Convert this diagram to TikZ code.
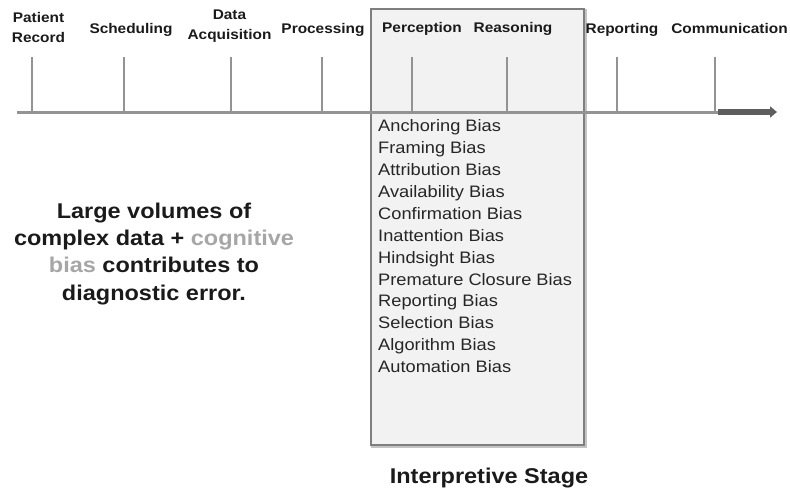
\documentclass[tikz,border=0pt]{standalone}
\usepackage{fontspec}
\setmainfont{Liberation Sans}[FakeStretch=1.1]
\usetikzlibrary{arrows.meta}
\definecolor{lblText}{HTML}{1A1A1A}
\definecolor{biasText}{HTML}{262626}
\definecolor{cogGrey}{HTML}{A6A6A6}
\definecolor{axisGrey}{HTML}{939393}
\definecolor{arrowGrey}{HTML}{5E5E5E}
\definecolor{boxFill}{HTML}{F2F2F2}
\definecolor{boxLine}{HTML}{7F7F7F}
\definecolor{shadowGrey}{HTML}{C4C4C4}
\tikzset{
  stagelbl/.style={inner sep=0pt, text=lblText, font=\fontsize{14}{20}\selectfont\bfseries, align=center},
  bigtext/.style={inner sep=0pt, text=lblText, font=\fontsize{21.35}{27.3}\selectfont\bfseries, align=center},
  biaslist/.style={inner sep=0pt, text=biasText, font=\fontsize{16.6}{21.9}\selectfont, align=left},
  tickline/.style={draw=axisGrey, line width=2.8pt},
  axisline/.style={draw=axisGrey, line width=3pt},
  arrowpart/.style={draw=arrowGrey, line width=5.5pt, -{Triangle[length=7pt,width=11pt]}},
  stagebox/.style={draw=boxLine, fill=boxFill, line width=2.3pt},
  boxshadow/.style={draw=shadowGrey, line width=2.3pt}
}
\begin{document}
\begin{tikzpicture}[x=1pt,y=-1pt]
\useasboundingbox (0,0) rectangle (790,488);
% interpretive box
\draw[boxshadow] (372.5,10.5) rectangle (585.5,446.5);
\draw[stagebox] (371,9) rectangle (584,445);
% timeline
\coordinate (axA) at (17,112);
\coordinate (axB) at (718,112);
\coordinate (axC) at (777,112);
\draw[axisline] (axA) -- (axB);
\draw[arrowpart] (axB) -- (axC);
% ticks
\foreach \n/\x in {t1/32,t2/124,t3/231,t4/322,t5/412,t6/507,t7/617,t8/715}{
  \coordinate (\n top) at (\x,57);
  \coordinate (\n bot) at (\x,113);
  \draw[tickline] (\n top) -- (\n bot);
}
% stage labels
\node[stagelbl, anchor=north] (lPR) at (38.5,12) {Patient\\Record};
\node[stagelbl, anchor=base] (lSC) at (131,33) {Scheduling};
\node[stagelbl, anchor=north] (lDA) at (229.5,10) {Data\\Acquisition};
\node[stagelbl, anchor=base] (lPC) at (323,33) {Processing};
\node[stagelbl, anchor=base] (lPE) at (422,32) {Perception};
\node[stagelbl, anchor=base] (lRE) at (513,32) {Reasoning};
\node[stagelbl, anchor=base] (lRP) at (622,33) {Reporting};
\node[stagelbl, anchor=base] (lCO) at (729.5,33) {Communication};
% bias list
\node[biaslist, anchor=north west] (biases) at (378,119.5) {Anchoring Bias\\Framing Bias\\Attribution Bias\\Availability Bias\\Confirmation Bias\\Inattention Bias\\Hindsight Bias\\Premature Closure Bias\\Reporting Bias\\Selection Bias\\Algorithm Bias\\Automation Bias};
% left statement
\node[bigtext, anchor=north] (stmt) at (154,202.5) {Large volumes of\\complex data + \textcolor{cogGrey}{cognitive}\\\textcolor{cogGrey}{bias} contributes to\\diagnostic error.};
% stage name
\node[bigtext, anchor=base] (stage) at (489,483) {Interpretive Stage};
\end{tikzpicture}
\end{document}
